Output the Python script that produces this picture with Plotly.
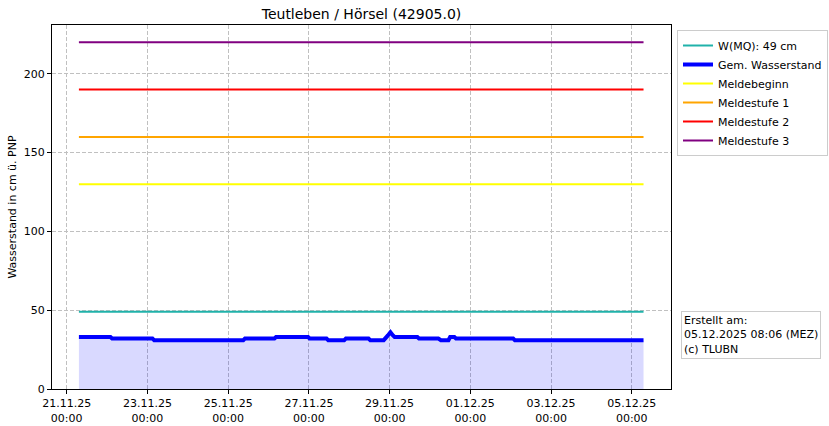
import plotly.graph_objects as go

# Pegel Teutleben / Hoersel - gemessener Wasserstand und Meldestufen
zeit = ["2025-11-21 07:15", "2025-11-22 02:00", "2025-11-22 03:00", "2025-11-23 03:00",
        "2025-11-23 04:00", "2025-11-25 09:00", "2025-11-25 10:00", "2025-11-26 03:30",
        "2025-11-26 04:30", "2025-11-26 23:30", "2025-11-27 00:30", "2025-11-27 10:30",
        "2025-11-27 11:30", "2025-11-27 21:00", "2025-11-27 22:00", "2025-11-28 11:30",
        "2025-11-28 12:30", "2025-11-28 20:30", "2025-11-28 23:00", "2025-11-29 00:30",
        "2025-11-29 02:00", "2025-11-29 03:00", "2025-11-29 16:30", "2025-11-29 17:30",
        "2025-11-30 05:00", "2025-11-30 06:30", "2025-11-30 11:00", "2025-11-30 12:00",
        "2025-11-30 14:30", "2025-11-30 15:30", "2025-12-02 01:30", "2025-12-02 02:30",
        "2025-12-05 07:00"]
wasserstand = [33, 33, 32, 32,
               31, 31, 32, 32,
               33, 33, 32, 32,
               31, 31, 32, 32,
               31, 31, 34, 36,
               34, 33, 33, 32,
               32, 31, 31, 33,
               33, 32, 32, 31,
               31]

# Meldestufen (cm)
stufen_namen = ["W(MQ): 49 cm", "Meldebeginn", "Meldestufe 1", "Meldestufe 2", "Meldestufe 3"]
stufen_werte = [49, 130, 160, 190, 220]
stufen_farben = ["#20b2aa", "yellow", "orange", "red", "purple"]

tick_datum = ["2025-11-21", "2025-11-23", "2025-11-25", "2025-11-27",
              "2025-11-29", "2025-12-01", "2025-12-03", "2025-12-05"]
tick_text = ["21.11.25<br>00:00", "23.11.25<br>00:00", "25.11.25<br>00:00", "27.11.25<br>00:00",
             "29.11.25<br>00:00", "01.12.25<br>00:00", "03.12.25<br>00:00", "05.12.25<br>00:00"]

start = zeit[0]
ende = zeit[-1]

fig = go.Figure()

# Flaeche unter dem Wasserstand
fig.add_trace(go.Scatter(x=zeit, y=wasserstand, mode="lines", fill="tozeroy",
                         fillcolor="rgba(0,0,255,0.15)", line=dict(width=0),
                         showlegend=False, hoverinfo="skip"))

# W(MQ) zuerst, dann Wasserstand, dann Meldestufen (Reihenfolge wie Legende)
fig.add_trace(go.Scatter(x=[start, ende], y=[stufen_werte[0]] * 2, mode="lines",
                         name=stufen_namen[0], line=dict(color=stufen_farben[0], width=2)))
fig.add_trace(go.Scatter(x=zeit, y=wasserstand, mode="lines", name="Gem. Wasserstand",
                         line=dict(color="blue", width=4)))
for name, wert, farbe in zip(stufen_namen[1:], stufen_werte[1:], stufen_farben[1:]):
    fig.add_trace(go.Scatter(x=[start, ende], y=[wert, wert], mode="lines",
                             name=name, line=dict(color=farbe, width=2)))

achse = dict(showline=True, mirror=True, linecolor="black", linewidth=1,
             ticks="outside", ticklen=4, tickcolor="black", automargin=False,
             showgrid=True, gridcolor="#c0c0c0", griddash="4px,2px", gridwidth=1,
             zeroline=False, tickfont=dict(size=11, color="black"))

fig.update_xaxes(achse, type="date", range=["2025-11-20 15:15", "2025-12-05 23:20"],
                 tickvals=tick_datum, ticktext=tick_text, tickangle=0)
fig.update_yaxes(achse, range=[0, 231], tickvals=[0, 50, 100, 150, 200],
                 title=dict(text="Wasserstand in cm ü. PNP", font=dict(size=11, color="black"),
                            standoff=4))

fig.add_annotation(text="Erstellt am:<br>05.12.2025 08:06 (MEZ)<br>(c) TLUBN",
                   xref="paper", yref="paper", x=1.016, y=0.215, xanchor="left", yanchor="top",
                   align="left", showarrow=False, font=dict(size=11, color="black"),
                   bgcolor="white", bordercolor="#cccccc", borderwidth=1, borderpad=2)

fig.update_layout(
    width=829, height=426,
    margin=dict(l=52, r=158, t=25, b=37, autoexpand=False),
    paper_bgcolor="white", plot_bgcolor="white",
    font=dict(family="DejaVu Sans", size=11, color="black"),
    title=dict(text="Teutleben / Hörsel (42905.0)", x=361.5 / 829, xref="container",
               y=1 - 14 / 426, yref="container", xanchor="center", yanchor="middle",
               font=dict(size=14, color="black")),
    legend=dict(x=677 / 829, y=1 - 30 / 426, xref="container", yref="container",
                xanchor="left", yanchor="top",
                bordercolor="#cccccc", borderwidth=1, bgcolor="white",
                font=dict(size=11), itemwidth=30, tracegroupgap=0),
    showlegend=True,
)

# Seitenrand des Browsers entfernen, damit die Grafik genau im Fenster sitzt
fig.write_html("out.html", config={"displayModeBar": False},
               post_script="document.body.style.margin='0';")
